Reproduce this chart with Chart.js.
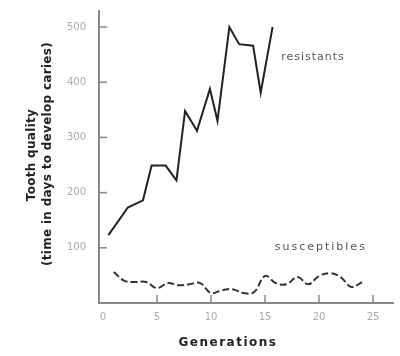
<!DOCTYPE html>
<html>
<head>
<meta charset="utf-8">
<script src="https://cdn.jsdelivr.net/npm/chart.js@4.4.1/dist/chart.umd.min.js"></script>
<style>
  html, body { margin: 0; padding: 0; background: #fff; }
  #wrap { width: 400px; height: 356px; }
</style>
</head>
<body>
<div id="wrap"><canvas id="chart"></canvas></div>
<script>
// Resistant line (generation, days)
const resistantGen  = [0.5, 2.3, 3.7, 4.5, 5.8, 6.8, 7.6, 8.7, 9.9, 10.6, 11.7, 12.6, 13.9, 14.6, 15.7];
const resistantDays = [123, 173, 186, 249, 249, 222, 348, 312, 388, 330, 500, 469, 466, 381, 500];

// Susceptible line
const susceptibleGen  = [1, 2, 3, 4, 5, 6, 7, 8, 9, 10, 11, 12, 13, 14, 15, 16, 17, 18, 19, 20, 21, 22, 23, 24];
const susceptibleDays = [56, 40, 38, 38, 27, 36, 32, 34, 36, 18, 23, 25, 18, 20, 49, 36, 34, 47, 34, 49, 54, 47, 29, 38];

const xTicks = [0, 5, 10, 15, 20, 25];
const yTicks = [0, 100, 200, 300, 400, 500];

const seriesNames = ['resistants', 'susceptibles'];
const yTitle = ['Tooth quality', '(time in days to develop caries)'];
const xTitle = 'Generations';

const toPoints = (xs, ys) => xs.map((x, i) => ({ x: x, y: ys[i] }));

// inward tick marks, series labels and axis titles
const decorations = {
    id: 'decorations',
    afterDraw(chart) {
        const ctx = chart.ctx;
        const xs = chart.scales.x, ys = chart.scales.y;
        const area = chart.chartArea;
        ctx.save();
        ctx.strokeStyle = '#888';
        ctx.lineWidth = 1.5;
        xTicks.forEach(v => {
            if (v === 0) return;
            const px = xs.getPixelForValue(v);
            ctx.beginPath();
            ctx.moveTo(px, area.bottom);
            ctx.lineTo(px, area.bottom - 8);
            ctx.stroke();
        });
        yTicks.forEach(v => {
            if (v === 0) return;
            const py = ys.getPixelForValue(v);
            ctx.beginPath();
            ctx.moveTo(area.left, py);
            ctx.lineTo(area.left + 8, py);
            ctx.stroke();
        });

        // series labels
        ctx.fillStyle = '#555';
        ctx.font = '11px "DejaVu Sans"';
        ctx.textBaseline = 'middle';
        ctx.textAlign = 'left';
        ctx.letterSpacing = '1px';
        ctx.fillText(seriesNames[0], xs.getPixelForValue(16.5), ys.getPixelForValue(445));
        ctx.letterSpacing = '2px';
        ctx.fillText(seriesNames[1], xs.getPixelForValue(15.9), ys.getPixelForValue(101));

        // axis titles
        ctx.fillStyle = '#222';
        ctx.font = 'bold 12px "DejaVu Sans"';
        ctx.textAlign = 'center';
        ctx.letterSpacing = '0.3px';
        ctx.save();
        ctx.translate(32, 155);
        ctx.rotate(-Math.PI / 2);
        ctx.fillText(yTitle[0], 0, 0);
        ctx.restore();
        ctx.save();
        ctx.translate(48, 154);
        ctx.rotate(-Math.PI / 2);
        ctx.fillText(yTitle[1], 0, 0);
        ctx.restore();

        ctx.letterSpacing = '1.5px';
        ctx.fillText(xTitle, 228, 343);
        ctx.restore();
    }
};

new Chart(document.getElementById('chart'), {
    type: 'line',
    data: {
        datasets: [
            {
                label: seriesNames[0],
                data: toPoints(resistantGen, resistantDays),
                borderColor: '#222',
                borderWidth: 2,
                pointRadius: 0,
                tension: 0
            },
            {
                label: seriesNames[1],
                data: toPoints(susceptibleGen, susceptibleDays),
                borderColor: '#333',
                borderWidth: 2,
                borderDash: [7, 3],
                pointRadius: 0,
                tension: 0.4
            }
        ]
    },
    options: {
        responsive: true,
        maintainAspectRatio: false,
        animation: false,
        layout: { padding: { top: 10, right: 7, left: 0, bottom: 0 } },
        plugins: {
            legend: { display: false },
            tooltip: { enabled: false }
        },
        scales: {
            x: {
                type: 'linear',
                min: -0.37,
                max: 26.85,
                afterBuildTicks: scale => { scale.ticks = xTicks.map(v => ({ value: v })); },
                afterFit: scale => { scale.height = 53; },
                grid: { display: false },
                border: { display: true, color: '#888', width: 2 },
                ticks: {
                    color: '#aaa',
                    font: { family: 'DejaVu Sans', size: 10 },
                    padding: 0,
                    maxRotation: 0
                }
            },
            y: {
                min: 0,
                max: 529,
                afterBuildTicks: scale => { scale.ticks = yTicks.map(v => ({ value: v })); },
                afterFit: scale => { scale.width = 99; },
                grid: { display: false },
                border: { display: true, color: '#888', width: 2 },
                ticks: {
                    color: '#aaa',
                    font: { family: 'DejaVu Sans', size: 10 },
                    padding: 5,
                    callback: v => (v === 0 ? '' : v)
                }
            }
        }
    },
    plugins: [decorations]
});
</script>
</body>
</html>
